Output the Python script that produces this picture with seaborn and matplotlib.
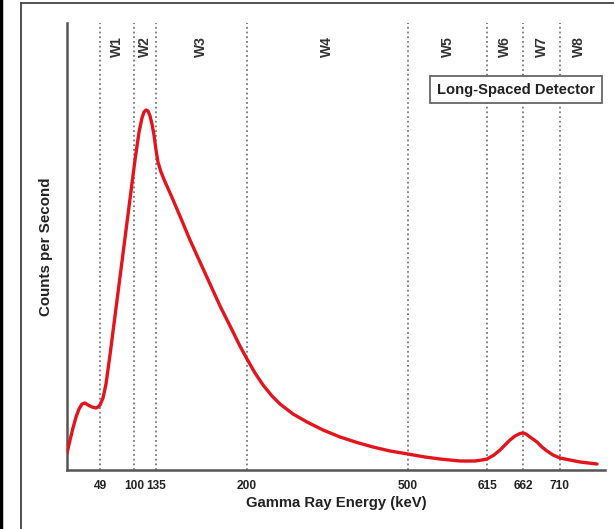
import numpy as np
import pandas as pd
import matplotlib
matplotlib.use("Agg")
import matplotlib.pyplot as plt
from matplotlib.lines import Line2D
import seaborn as sns

# ---- data ----
energy_kev = [0, 4.5, 8.9, 13.4, 17.8, 22.3, 26.7, 31.2, 37.1, 43.1, 46.0, 49,
              53.5, 58, 64, 71.5, 79, 86.5, 94, 101.6, 108, 112.7, 115.9, 119.1,
              122.3, 125.5, 128.6, 131.8, 135, 136.4, 138.6, 141.5, 145.1, 152.2,
              159.4, 166.6, 173.8, 181, 188.2, 195.3, 200.9, 215.8, 230.7, 247.4,
              262.2, 286.4, 312.4, 342.1, 373.7, 405.3, 435, 466.6, 500, 524.7,
              546.6, 575.7, 597.5, 607.7, 615, 624.1, 632, 638.5, 645, 651.6,
              658.1, 662, 665.9, 671.1, 680.2, 686.6, 693.1, 700.9, 710, 723.3,
              736.7, 759.3]
counts = [17, 30, 42, 53, 61, 66, 67, 65, 63, 62, 63, 65,
          72, 86, 115, 154, 193, 232, 271, 310, 338, 352, 358, 360,
          359, 354, 346, 335, 320, 308, 298, 288, 277, 254,
          230, 208, 186, 164, 144, 124, 111, 97, 85, 74,
          66, 56, 48, 40, 33, 27.5, 23, 19, 16, 13,
          11, 9, 9, 10, 11, 15, 20, 25, 30, 34,
          36.5, 37, 36, 33, 28, 23, 19, 15, 12, 10,
          8, 6]

window_bounds = [49, 100, 135, 200, 500, 615, 662, 710, 760]
window_labels = ["W1", "W2", "W3", "W4", "W5", "W6", "W7", "W8"]
tick_values = [49, 100, 135, 200, 500, 615, 662, 710]
tick_labels = ["49", "100", "135", "200", "500", "615", "662", "710"]

# non-linear (piecewise) energy axis of the original figure
scale_energy = [0, 49, 100, 135, 200, 500, 615, 662, 710, 770]
scale_pos = [0, 33, 67, 89, 179.5, 341, 420, 456, 493, 538]

def fwd(x):
    return np.interp(x, scale_energy, scale_pos)

def inv(p):
    return np.interp(p, scale_pos, scale_energy)

df = pd.DataFrame({"Energy": energy_kev, "Counts": counts})

sns.set_style("white")
plt.rcParams["font.family"] = ["Liberation Sans", "DejaVu Sans"]

fig = plt.figure(figsize=(6.14, 5.29), dpi=100)
ax = fig.add_axes([67 / 614, 1 - 470 / 529, (605 - 67) / 614, (470 - 23) / 529])
ax.set_xscale("function", functions=(fwd, inv))

for b in window_bounds[:-1]:
    ax.axvline(b, color="#7a7a7a", linestyle=(0, (1, 1.6)), linewidth=1.3, zorder=1)

sns.lineplot(data=df, x="Energy", y="Counts", ax=ax, color="#e3141c",
             linewidth=2.4, zorder=3, solid_joinstyle="round", solid_capstyle="round")

ax.set_xlim(0, 770)
ax.set_ylim(0, 447)
ax.set_xticks(tick_values)
ax.set_xticklabels(tick_labels, fontsize=8.6, fontweight="bold", color="#222222")
ax.set_yticks([])
ax.tick_params(axis="x", length=0, pad=7)
ax.set_xlabel("Gamma Ray Energy (keV)", fontsize=10.7, fontweight="bold", color="#222222", labelpad=3)
ax.set_ylabel("Counts per Second", fontsize=10.9, fontweight="bold", color="#222222", labelpad=10)

for s in ["top", "right"]:
    ax.spines[s].set_visible(False)
for s in ["left", "bottom"]:
    ax.spines[s].set_color("#555555")
    ax.spines[s].set_linewidth(1.8)

# window labels
for lab, a, b in zip(window_labels, window_bounds[:-1], window_bounds[1:]):
    mid = inv((fwd(a) + fwd(b)) / 2)
    ax.text(mid, 423, lab, rotation=90, ha="center", va="center",
            fontsize=10, fontweight="bold", color="#333333")

ax.text(0.8346, 0.851, "Long-Spaced Detector", transform=ax.transAxes,
        ha="center", va="center", fontsize=10.6, fontweight="bold", color="#222222",
        zorder=5,
        bbox=dict(boxstyle="square,pad=0.45", facecolor="white", edgecolor="#666666", linewidth=1.3))

# outer frame of the original picture
fig.add_artist(Line2D([1.5 / 614, 1.5 / 614], [0, 1], color="black", linewidth=2.5,
                      transform=fig.transFigure))
fig.add_artist(Line2D([21 / 614, 21 / 614], [0, 1 - 3 / 529], color="#333333", linewidth=1.2,
                      transform=fig.transFigure))
fig.add_artist(Line2D([21 / 614, 1], [1 - 3 / 529, 1 - 3 / 529], color="#333333", linewidth=1.2,
                      transform=fig.transFigure))

fig.savefig("out.png", dpi=100)
